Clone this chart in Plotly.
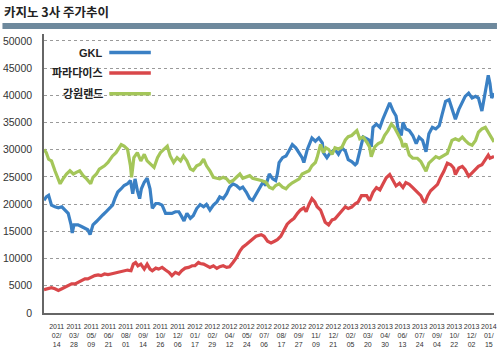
import plotly.graph_objects as go

# ---- data (trading-day index, price in KRW) ----
gkl_days = [0,4,8,11,13,19,25,31,36,42,47,49,52,59,65,71,76,80,85,91,96,102,108,114,119,123,128,134,139,145,150,154,158,162,166,169,174,179,184,188,194,199,205,211,217,222,228,234,239,243,248,254,259,265,271,277,282,288,294,300,305,311,317,322,328,334,340,345,351,357,362,368,374,380,385,391,397,402,405,408,414,420,425,431,437,443,448,451,457,465,471,477,483,485,491,497,505,511,517,523,528,534,540,543,548,554,560,565,568,571,577,583,588,594,600,606,611,614,620,623,628,634,640,646,651,657,663,668,674,680,686,691,697,703,708,714,720,726,731,737,743,749,754,760,766,769,771,774,777,781]
gkl_vals = [20720,21330,21630,20420,19820,19520,19340,19520,18920,18310,16200,14700,16200,16200,15900,15600,15300,14400,16200,16810,17410,18010,18610,19220,19820,21020,22230,22830,23430,23740,24340,21930,24640,22530,21020,22830,24040,24760,22830,19220,20120,20120,19820,18310,18310,18310,18610,18610,17710,16930,18310,17410,17890,19200,19940,19520,19940,18920,19820,20420,21330,21020,21930,23130,23740,23430,22830,23130,22230,21020,20720,21930,23130,24040,23430,25540,24640,24340,25540,27650,28550,28860,29760,30960,30360,29460,28550,27650,30060,32170,31570,32170,31270,29460,28550,29460,30060,29160,30360,29760,28200,27840,27240,27540,29930,32320,32020,31720,30530,34120,34710,34120,35610,37110,38600,37110,36210,34120,32620,35010,33820,33520,32620,31130,32320,31720,29630,32920,34120,33820,34420,36510,38900,39200,37700,35610,37410,38600,39800,40400,39500,39800,39500,37110,40690,43090,43680,42190,39500,40400]

par_days = [0,8,13,19,25,31,36,42,48,54,59,65,71,76,82,88,94,99,105,111,116,122,128,134,139,145,151,155,159,163,168,174,179,184,188,194,199,205,211,217,222,228,234,239,245,251,257,262,268,271,277,282,288,294,300,305,311,317,322,328,334,340,345,351,357,362,368,377,382,388,394,400,405,411,417,422,428,434,440,445,451,455,460,465,470,474,480,484,488,494,500,505,511,517,523,528,534,540,545,551,560,565,571,577,583,588,594,600,606,611,617,623,628,634,640,648,654,658,661,666,671,677,683,688,694,700,706,711,714,720,726,731,737,743,749,754,760,766,771,774,781]
par_vals = [4280,4460,4640,4460,4160,4460,4760,5060,5360,5360,5660,5960,6270,6270,6570,6870,6990,6870,7170,7050,7170,7290,7470,7650,7770,7890,7770,8980,9280,8680,8980,8070,8980,8070,7770,8250,8070,8380,7890,7470,6870,7470,7170,7770,8250,8380,8680,8680,9280,9100,8980,8680,8380,8680,8190,8500,8680,8380,8500,9280,10180,11390,12110,12590,13190,13490,14100,14400,14100,13190,12890,13190,13490,14100,15300,16320,16930,17410,18310,18920,19340,18610,19940,21020,20420,19520,18920,17710,16690,16200,17110,17290,18010,18610,19520,19200,19470,20060,20360,21560,21560,20660,22160,23050,22630,23650,24850,25450,24250,23350,23830,23050,23950,23650,23050,22160,21560,20660,20240,21560,22460,23050,23650,24850,26040,27540,27240,26640,25450,26640,26940,26340,25150,25750,26340,26940,27240,28140,29030,28440,28740]

kwl_days = [0,4,8,13,19,25,28,33,39,45,51,56,62,68,74,81,85,91,96,105,111,119,125,134,139,145,150,152,156,162,168,174,179,185,191,197,202,208,214,219,225,231,237,242,248,254,259,265,271,277,282,288,294,300,305,311,317,322,328,334,340,345,351,357,362,368,377,385,391,397,402,408,414,420,425,431,437,443,448,454,460,465,471,474,477,480,485,489,494,500,505,511,517,523,528,534,540,543,548,554,560,565,568,574,580,586,591,597,603,608,614,620,623,628,634,640,648,654,660,663,668,674,680,686,694,700,708,714,720,726,731,737,743,749,754,760,766,771,777,781]
kwl_vals = [30060,29460,28250,27950,26140,24640,23740,24640,25540,26140,25540,25840,26140,25240,24640,23740,24940,25540,26450,27050,27650,28860,29460,30960,30660,30060,27050,24940,28550,29460,27950,29160,27950,27350,26750,28550,29460,30060,30660,28860,27650,28550,27950,28860,27950,26500,26200,27050,27350,28250,27050,26140,24940,24760,24640,24940,24640,24040,24340,24940,25540,24760,24940,25240,24760,24640,24340,24040,23130,22830,23430,23740,23130,22830,23430,23920,24340,24640,25540,25840,26140,27050,27650,28550,29760,30960,29460,30360,30060,29160,30360,30150,30450,31800,32400,32620,33220,33520,32020,32320,31430,30530,28730,30530,31130,31430,32620,33520,34710,34120,32920,31720,30530,31130,29030,28440,28440,27840,26640,26040,27540,28140,28730,28440,29030,29330,31720,32020,31720,32320,31720,31130,30830,31720,33220,33820,34120,33220,32320,31430]

tick_dates = ["2011/02/14","2011/03/28","2011/05/09","2011/06/21","2011/08/01","2011/09/14",
              "2011/10/26","2011/12/06","2012/01/17","2012/02/29","2012/04/12","2012/05/24",
              "2012/07/06","2012/08/17","2012/09/27","2012/11/09","2012/12/21","2013/02/05",
              "2013/03/20","2013/04/30","2013/06/13","2013/07/24","2013/09/04","2013/10/22",
              "2013/12/02","2014/01/15"]
tick_days = [22 + 30 * k for k in range(len(tick_dates))]
y_ticks = list(range(0, 50001, 5000))

series_names = ["GKL", "파라다이스", "강원랜드"]
colors = ["#3a80c4", "#d9474a", "#a4c659"]

# ---- figure ----
W, H = 500, 351
L, R, T, B = 42, 3, 34, 35
pw, ph = W - L - R, H - T - B

def px(x):
    return (x - L) / pw

def py(y):
    return (H - B - y) / ph

fig = go.Figure()
for name, d, v, c in zip(series_names, [gkl_days, par_days, kwl_days],
                         [gkl_vals, par_vals, kwl_vals], colors):
    fig.add_trace(go.Scatter(x=d, y=v, mode="lines", name=name,
                             line=dict(color=c, width=3.2), showlegend=False))

ticktext = ["<br>".join([s.split("/")[0], s.split("/")[1] + "/", s.split("/")[2]])
            for s in tick_dates]

fig.update_layout(
    width=W, height=H,
    margin=dict(l=L, r=R, t=T, b=B),
    paper_bgcolor="white", plot_bgcolor="white",
    showlegend=False,
    font=dict(family="Liberation Sans, Arial, sans-serif", color="#333"),
    xaxis=dict(range=[0, 781], tickvals=tick_days, ticktext=ticktext, tickangle=0,
               showgrid=False, zeroline=False, showline=True,
               linecolor="#666", linewidth=1.5, ticks="",
               tickfont=dict(size=7, family="Liberation Sans Narrow, Arial Narrow, Liberation Sans",
                             color="#333"),
               ticklabelstandoff=6, fixedrange=True),
    yaxis=dict(range=[0, 51270], tickvals=y_ticks, ticktext=[str(v) for v in y_ticks],
               showgrid=True, gridcolor="#9a9a9a", griddash="dot", gridwidth=1,
               zeroline=False, showline=True, linecolor="#666", linewidth=1.5,
               ticks="", tickfont=dict(size=10.5, color="#333"),
               ticklabelstandoff=8, fixedrange=True),
)

# title + header bar
fig.add_annotation(text="<b>카지노 3사 주가추이</b>", xref="paper", yref="paper",
                   x=px(0), y=py(0), xanchor="left", yanchor="top", showarrow=False,
                   font=dict(family="Noto Sans CJK KR", size=12.5, color="#222"))
fig.add_shape(type="rect", xref="paper", yref="paper", x0=px(0), x1=px(W),
              y0=py(29), y1=py(23), fillcolor="#6e899d", line=dict(width=0), layer="above")

# legend (text left, line right)
leg_y = [52.7, 73.3, 94.3]
for name, c, yy in zip(series_names, colors, leg_y):
    fig.add_annotation(text="<b>" + name + "</b>", xref="paper", yref="paper",
                       x=px(104), y=py(yy), xanchor="right", yanchor="middle",
                       showarrow=False,
                       font=dict(family="Liberation Sans, Noto Sans CJK KR", size=11, color="#222"))
    fig.add_shape(type="line", xref="paper", yref="paper", x0=px(108), x1=px(150),
                  y0=py(yy), y1=py(yy), line=dict(color=c, width=3.5))

fig.write_html("out.html")
